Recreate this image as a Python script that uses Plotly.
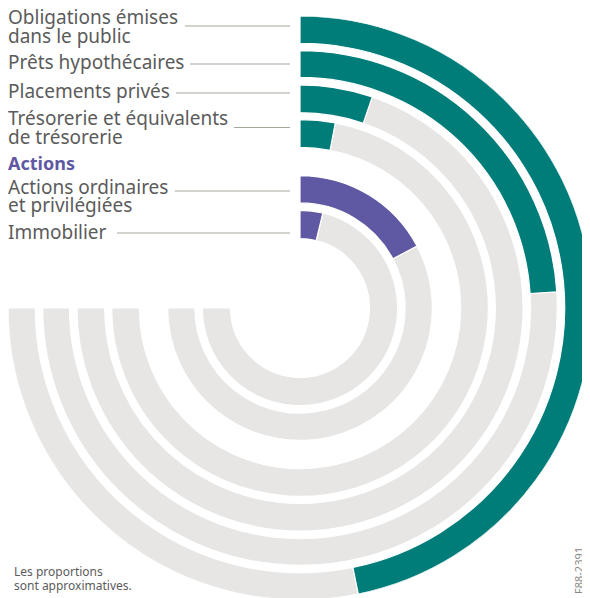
import plotly.graph_objects as go

# share of the 270 degree arc filled for each holding (approximate)
categories = [
    "Obligations émises dans le public",
    "Prêts hypothécaires",
    "Placements privés",
    "Trésorerie et équivalents de trésorerie",
    "Actions ordinaires et privilégiées",
    "Immobilier",
]
label_lines = [
    ["Obligations émises", "dans le public"],
    ["Prêts hypothécaires"],
    ["Placements privés"],
    ["Trésorerie et équivalents", "de trésorerie"],
    ["Actions ordinaires", "et privilégiées"],
    ["Immobilier"],
]
groups = ["fixed", "fixed", "fixed", "fixed", "equity", "equity"]
share = [62.4, 32.0, 7.0, 4.0, 23.0, 5.0]

FULL = 270.0
COLORS = {"fixed": "#007c79", "equity": "#5f59a3"}
GREY = "#e7e6e4"
TEXT = "#5b5b5b"
LINE = "#a7a69c"

W, H = 590, 598
OFF = 8  # page body margin in the browser
# ring geometry (radial units)
ring_outer = [294.5, 259.5, 225.0, 190.0, 133.5, 98.5]
ring_inner = [267.0, 232.5, 197.0, 162.0, 106.0, 70.0]

ang = [s / 100 * FULL for s in share]
thick = [o - i for o, i in zip(ring_outer, ring_inner)]

fig = go.Figure()

fig.add_trace(go.Barpolar(
    r=thick,
    base=ring_inner,
    theta=[(a + FULL) / 2 for a in ang],
    width=[FULL - a for a in ang],
    marker_color=GREY,
    marker_line_color="white",
    marker_line_width=1.2,
    hoverinfo="skip",
    showlegend=False,
))
fig.add_trace(go.Barpolar(
    r=thick,
    base=ring_inner,
    theta=[a / 2 for a in ang],
    width=ang,
    marker_color=[COLORS[g] for g in groups],
    marker_line_color="white",
    marker_line_width=1.2,
    text=categories,
    hoverinfo="text",
    showlegend=False,
))

fig.update_layout(
    width=W,
    height=H,
    margin=dict(l=0, r=0, t=0, b=0),
    paper_bgcolor="white",
    plot_bgcolor="white",
    font=dict(family="Noto Sans", color=TEXT),
    polar=dict(
        domain=dict(x=[0, 584 / W], y=[6 / H, 590 / H]),
        bgcolor="white",
        radialaxis=dict(range=[0, 294.5], visible=False),
        angularaxis=dict(rotation=90, direction="clockwise", visible=False),
    ),
)


def px(x):
    return (x - OFF) / W


def py(y):
    return 1 - (y - OFF) / H


def text(x, y, s, size, color=TEXT, **kw):
    fig.add_annotation(
        x=px(x), y=py(y), xref="paper", yref="paper", text=s,
        showarrow=False, xanchor="left", yanchor="middle",
        font=dict(size=size, color=color), **kw,
    )


# labels on the left with connector lines (window pixel positions)
line_centres = [[17, 35.5], [62], [91.5], [118, 136.5], [187, 204.5], [232]]
conn_x0 = [185, 190, 176, 234, 175, 117]
conn_y = [26, 64, 93, 127.5, 191, 233]

for lines, ys, x0, yl in zip(label_lines, line_centres, conn_x0, conn_y):
    for s, y in zip(lines, ys):
        text(6, y, s, 19)
    fig.add_shape(
        type="line", xref="paper", yref="paper",
        x0=px(x0), x1=px(290), y0=py(yl), y1=py(yl),
        line=dict(color=LINE, width=1.2),
    )

text(6, 163, "<b>Actions</b>", 18, COLORS["equity"])

text(12, 571, "Les proportions", 12)
text(12, 585, "sont approximatives.", 12)

fig.add_annotation(
    x=px(578), y=py(571), xref="paper", yref="paper",
    text="F88-2391", showarrow=False, textangle=-90,
    xanchor="center", yanchor="middle",
    font=dict(size=11, color="#8a8a8a"),
)

fig.write_html("out.html")
